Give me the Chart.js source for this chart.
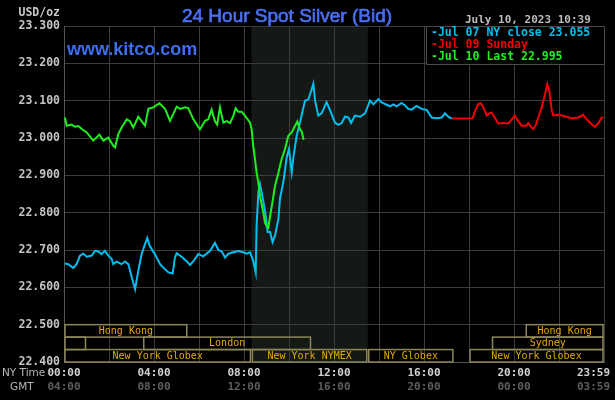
<!DOCTYPE html>
<html>
<head>
<meta charset="utf-8">
<script src="https://cdn.jsdelivr.net/npm/chart.js@4.4.0/dist/chart.umd.min.js"></script>
<style>
html, body { margin: 0; padding: 0; background: #000; }
canvas { display: block; }
</style>
</head>
<body>
<canvas id="silverChart" width="615" height="400"></canvas>
<script>
// hours after NY midnight (x) and bid price (y)
const jul07Hours = [0.04, 0.19, 0.41, 0.56, 0.71, 0.86, 1.01, 1.23, 1.38, 1.53, 1.67, 1.82, 1.97, 2.12, 2.19, 2.34, 2.56, 2.71, 2.86, 3.01,
  3.16, 3.30, 3.45, 3.60, 3.70, 3.82, 4.04, 4.27, 4.41, 4.64, 4.83, 4.93, 5.01, 5.23, 5.45, 5.60, 5.75, 5.97, 6.19, 6.49,
  6.71, 6.86, 7.01, 7.16, 7.30, 7.53, 7.75, 7.97, 8.12, 8.27, 8.41, 8.52, 8.56, 8.64, 8.71, 8.81, 8.93, 9.05, 9.16, 9.27,
  9.38, 9.53, 9.60, 9.75, 9.90, 10.00, 10.12, 10.20, 10.34, 10.49, 10.71, 10.86, 11.01, 11.08, 11.16, 11.30, 11.45, 11.67, 11.82, 12.04,
  12.19, 12.34, 12.49, 12.64, 12.76, 12.93, 13.16, 13.38, 13.60, 13.75, 13.97, 14.12, 14.34, 14.49, 14.64, 14.79, 15.00, 15.16, 15.30, 15.45,
  15.67, 15.90, 16.12, 16.34, 16.56, 16.79, 16.93, 17.08, 17.23];
const jul07Bids = [22.664, 22.662, 22.652, 22.662, 22.685, 22.690, 22.682, 22.685, 22.698, 22.696, 22.689, 22.698, 22.685, 22.676, 22.662, 22.669, 22.662, 22.669, 22.662, 22.627,
  22.595, 22.644, 22.689, 22.716, 22.732, 22.710, 22.689, 22.662, 22.653, 22.640, 22.637, 22.680, 22.691, 22.682, 22.670, 22.660, 22.670, 22.689, 22.683, 22.698,
  22.719, 22.700, 22.696, 22.680, 22.690, 22.694, 22.697, 22.694, 22.690, 22.694, 22.671, 22.640, 22.765, 22.855, 22.877, 22.846, 22.806, 22.748, 22.748, 22.721,
  22.739, 22.784, 22.838, 22.882, 22.949, 22.971, 22.908, 22.950, 23.006, 23.042, 23.100, 23.103, 23.131, 23.145, 23.100, 23.060, 23.066, 23.096, 23.075, 23.041,
  23.035, 23.040, 23.057, 23.055, 23.040, 23.060, 23.057, 23.066, 23.100, 23.090, 23.104, 23.095, 23.089, 23.085, 23.090, 23.085, 23.094, 23.087, 23.078, 23.076,
  23.086, 23.078, 23.075, 23.055, 23.053, 23.055, 23.066, 23.057, 23.052];

const jul09Hours = [17.23, 18.16, 18.27, 18.41, 18.52, 18.64, 18.79, 18.90, 19.01, 19.16, 19.30, 19.53, 19.75, 19.90, 20.04, 20.19, 20.34, 20.56, 20.63, 20.78,
  20.86, 20.97, 21.08, 21.23, 21.38, 21.48, 21.57, 21.68, 21.75, 21.90, 22.12, 22.34, 22.56, 22.86, 23.08, 23.23, 23.45, 23.60, 23.75, 23.90, 23.97];
const jul09Bids = [23.052, 23.053, 23.073, 23.091, 23.093, 23.082, 23.060, 23.066, 23.068, 23.053, 23.039, 23.040, 23.039, 23.050, 23.060, 23.045, 23.033, 23.033, 23.040, 23.028,
  23.024, 23.035, 23.055, 23.082, 23.118, 23.145, 23.127, 23.073, 23.060, 23.062, 23.060, 23.057, 23.053, 23.055, 23.062, 23.050, 23.037, 23.030, 23.040, 23.055, 23.053];

const jul10Hours = [0.04, 0.12, 0.34, 0.49, 0.64, 0.79, 1.01, 1.30, 1.57, 1.75, 1.97, 2.19, 2.27, 2.41, 2.56, 2.79, 2.93, 3.08, 3.30, 3.60,
  3.75, 3.97, 4.24, 4.49, 4.71, 5.01, 5.16, 5.38, 5.52, 5.75, 6.04, 6.27, 6.41, 6.56, 6.71, 6.81, 6.93, 7.08, 7.23, 7.38,
  7.53, 7.63, 7.75, 7.90, 8.04, 8.27, 8.34, 8.41, 8.49, 8.56, 8.64, 8.71, 8.86, 8.93, 9.01, 9.08, 9.16, 9.26, 9.38, 9.53,
  9.67, 9.82, 9.97, 10.12, 10.27, 10.37, 10.49, 10.56, 10.65];
const jul10Bids = [23.055, 23.033, 23.036, 23.030, 23.032, 23.024, 23.015, 22.993, 23.009, 22.993, 23.001, 22.979, 22.975, 23.010, 23.028, 23.050, 23.045, 23.028, 23.057, 23.033,
  23.078, 23.082, 23.093, 23.078, 23.046, 23.084, 23.078, 23.082, 23.080, 23.050, 23.023, 23.046, 23.050, 23.076, 23.045, 23.036, 23.082, 23.041, 23.045, 23.040,
  23.060, 23.080, 23.070, 23.070, 23.060, 23.041, 23.023, 22.978, 22.943, 22.907, 22.880, 22.844, 22.800, 22.773, 22.764, 22.760, 22.791, 22.827, 22.872, 22.907,
  22.943, 22.970, 23.006, 23.015, 23.033, 23.044, 23.023, 23.018, 22.995];

const legendLabels = ['Jul 07 NY close 23.055', 'Jul 09 Sunday', 'Jul 10 Last 22.995'];

// bottom axis
const timeTicks = [0, 4, 8, 12, 16, 20, 24];
const nyTimeLabels = ['00:00', '04:00', '08:00', '12:00', '16:00', '20:00', '23:59'];
const gmtLabels = ['04:00', '08:00', '12:00', '16:00', '20:00', '00:00', '03:59'];

// trading sessions strip (row 0 = top)
const nymexHours = [8.33, 13.5];
const sessionNames = ['Hong Kong', '', 'London', 'New York Globex', 'New York NYMEX', 'NY Globex', 'New York Globex', 'Sydney', 'Hong Kong'];
const sessionRows = [0, 1, 1, 2, 2, 2, 2, 1, 0];
const sessionStart = [0, 0, 3.5, 0, 8.33, 13.5, 18, 19, 20.5];
const sessionEnd = [5.5, 1, 11, 8.33, 13.5, 17.33, 24, 24, 24];

const toPoints = (hours, bids) => hours.map((h, i) => ({ x: h, y: bids[i] }));

const MONO = 'DejaVu Sans Mono';

const kitcoDecor = {
  id: 'kitcoDecor',
  beforeDraw(chart) {
    const { ctx, chartArea: a, scales: { x } } = chart;
    ctx.save();
    ctx.fillStyle = '#000';
    ctx.fillRect(0, 0, chart.width, chart.height);
    // NYMEX pit hours shading
    const x0 = x.getPixelForValue(nymexHours[0]);
    const x1 = x.getPixelForValue(nymexHours[1]);
    ctx.fillStyle = '#151915';
    ctx.fillRect(x0, a.top, x1 - x0, a.bottom - a.top);
    ctx.restore();
  },
  afterDraw(chart) {
    const { ctx, scales: { x, y } } = chart;
    ctx.save();

    // session boxes
    const rowH = 0.1 / 3;
    ctx.lineWidth = 1.5;
    ctx.strokeStyle = '#8c8759';
    ctx.fillStyle = '#e6a800';
    ctx.font = '10px ' + MONO;
    ctx.textAlign = 'center';
    ctx.textBaseline = 'middle';
    sessionNames.forEach((name, i) => {
      const xs = x.getPixelForValue(sessionStart[i]);
      const xe = x.getPixelForValue(sessionEnd[i]);
      const yt = y.getPixelForValue(22.5 - sessionRows[i] * rowH);
      const yb = y.getPixelForValue(22.5 - (sessionRows[i] + 1) * rowH);
      ctx.strokeRect(xs + 1, yt, xe - xs - 2, yb - yt);
      if (name) ctx.fillText(name, (xs + xe) / 2, (yt + yb) / 2 + 0.5);
    });

    // time labels
    ctx.font = 'bold 11px ' + MONO;
    timeTicks.forEach((t, i) => {
      let px = x.getPixelForValue(t);
      ctx.textAlign = 'center';
      if (t === 24) { ctx.textAlign = 'right'; px += 6; }
      ctx.fillStyle = '#d2d2d2';
      ctx.fillText(nyTimeLabels[i], px, 373);
      ctx.fillStyle = '#5e5e5e';
      ctx.fillText(gmtLabels[i], px, 387);
    });
    ctx.textAlign = 'left';
    ctx.font = '10.5px DejaVu Sans';
    ctx.fillStyle = '#b8b8b8';
    ctx.fillText('NY Time', 2, 373);
    ctx.fillText('GMT', 10, 387);

    // unit and date
    ctx.font = 'bold 11.5px ' + MONO;
    ctx.fillStyle = '#c8c8c8';
    ctx.textAlign = 'right';
    ctx.fillText('USD/oz', 60, 13);
    ctx.textAlign = 'left';
    ctx.font = 'bold 11px ' + MONO;
    ctx.fillStyle = '#bcbcbc';
    ctx.fillText('July 10, 2023 10:39', 465, 20);

    // titles
    ctx.textBaseline = 'alphabetic';
    ctx.textAlign = 'center';
    ctx.font = '19px Liberation Sans';
    ctx.fillStyle = '#4a6ef2';
    ctx.strokeStyle = '#4a6ef2';
    ctx.lineWidth = 0.7;
    ctx.fillText('24 Hour Spot Silver (Bid)', 287, 22);
    ctx.strokeText('24 Hour Spot Silver (Bid)', 287, 22);
    ctx.textAlign = 'left';
    ctx.font = 'bold 18px Liberation Sans';
    ctx.fillStyle = '#3d6ef0';
    ctx.fillText('www.kitco.com', 67, 55);

    // legend
    const lx = 426, ly = 26, lw = 178, lh = 38;
    ctx.fillStyle = '#000';
    ctx.fillRect(lx, ly, lw, lh);
    ctx.strokeStyle = '#4a4a4a';
    ctx.lineWidth = 1;
    ctx.strokeRect(lx + 0.5, ly + 0.5, lw, lh);
    ctx.font = 'bold 11.5px ' + MONO;
    ctx.textBaseline = 'middle';
    [0, 1, 2].forEach(i => {
      const ds = chart.data.datasets.find(d => d.label === legendLabels[i]);
      ctx.fillStyle = ds.borderColor;
      ctx.fillText('-' + legendLabels[i], lx + 5, ly + 7.5 + i * 12);
    });
    ctx.restore();
  }
};

new Chart(document.getElementById('silverChart'), {
  type: 'line',
  data: {
    datasets: [
      { label: legendLabels[2], data: toPoints(jul10Hours, jul10Bids), borderColor: '#1ef01e' },
      { label: legendLabels[0], data: toPoints(jul07Hours, jul07Bids), borderColor: '#00bff0' },
      { label: legendLabels[1], data: toPoints(jul09Hours, jul09Bids), borderColor: '#f20000' }
    ]
  },
  options: {
    responsive: false,
    animation: false,
    layout: { padding: { top: 26, right: 11, bottom: 38, left: 0 } },
    elements: {
      point: { radius: 0 },
      line: { borderWidth: 2, tension: 0 }
    },
    plugins: {
      legend: { display: false },
      tooltip: { enabled: false }
    },
    scales: {
      x: {
        type: 'linear',
        min: 0,
        max: 24,
        ticks: { display: false, stepSize: 2 },
        grid: { color: '#3c3c3c', drawTicks: false },
        border: { color: '#555' }
      },
      y: {
        min: 22.4,
        max: 23.3,
        afterFit: s => { s.width = 64; },
        ticks: {
          stepSize: 0.1,
          padding: 4,
          color: '#c4c4c4',
          font: { family: MONO, size: 11.5, weight: 'bold' },
          callback: v => v.toFixed(3)
        },
        grid: { color: '#3c3c3c', drawTicks: false },
        border: { color: '#555' }
      }
    }
  },
  plugins: [kitcoDecor]
});
</script>
</body>
</html>
